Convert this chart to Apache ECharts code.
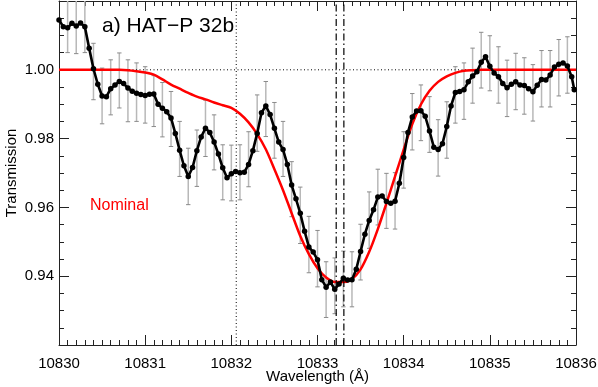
<!DOCTYPE html>
<html><head><meta charset="utf-8">
<script src="https://cdn.jsdelivr.net/npm/echarts@6/dist/echarts.min.js"></script>
<style>html,body{margin:0;padding:0;background:#fff}#c{width:598px;height:387px}</style>
</head><body><div id="c"></div>
<script>
// Observed transmission spectrum (black)
const wave = [
10830.00,10830.05,10830.10,10830.15,10830.20,10830.25,10830.30,10830.35,10830.40,10830.45,
10830.50,10830.55,10830.60,10830.65,10830.70,10830.75,10830.80,10830.85,10830.90,10830.95,
10831.00,10831.05,10831.10,10831.15,10831.20,10831.25,10831.30,10831.35,10831.40,10831.45,
10831.50,10831.55,10831.60,10831.65,10831.70,10831.75,10831.80,10831.85,10831.90,10831.95,
10832.00,10832.05,10832.10,10832.15,10832.20,10832.25,10832.30,10832.35,10832.40,10832.45,
10832.50,10832.55,10832.60,10832.65,10832.70,10832.75,10832.80,10832.85,10832.90,10832.95,
10833.00,10833.05,10833.10,10833.15,10833.20,10833.25,10833.30,10833.35,10833.40,10833.45,
10833.50,10833.55,10833.60,10833.65,10833.70,10833.75,10833.80,10833.85,10833.90,10833.95,
10834.00,10834.05,10834.10,10834.15,10834.20,10834.25,10834.30,10834.35,10834.40,10834.45,
10834.50,10834.55,10834.60,10834.65,10834.70,10834.75,10834.80,10834.85,10834.90,10834.95,
10835.00,10835.05,10835.10,10835.15,10835.20,10835.25,10835.30,10835.35,10835.40,10835.45,
10835.50,10835.55,10835.60,10835.65,10835.70,10835.75,10835.80,10835.85,10835.90,10835.95,
10835.98];
const transmission = [
1.0145,1.0125,1.0122,1.0135,1.0127,1.0136,1.0125,1.0063,1.0003,0.9958,
0.9924,0.9922,0.9945,0.9956,0.9966,0.9960,0.9947,0.9938,0.9932,0.9928,
0.9925,0.9929,0.9930,0.9900,0.9888,0.9878,0.9860,0.9815,0.9766,0.9721,
0.9690,0.9716,0.9765,0.9805,0.9830,0.9818,0.9790,0.9755,0.9715,0.9686,
0.9698,0.9704,0.9701,0.9702,0.9725,0.9765,0.9815,0.9875,0.9895,0.9870,
0.9830,0.9790,0.9768,0.9725,0.9665,0.9625,0.9583,0.9531,0.9485,0.9470,
0.9448,0.9390,0.9368,0.9383,0.9362,0.9377,0.9394,0.9389,0.9390,0.9420,
0.9472,0.9522,0.9562,0.9593,0.9630,0.9633,0.9617,0.9612,0.9618,0.9670,
0.9745,0.9818,0.9863,0.9880,0.9881,0.9865,0.9822,0.9775,0.9768,0.9785,
0.9835,0.9895,0.9934,0.9937,0.9942,0.9965,0.9982,0.9994,1.0022,1.0038,
1.0010,0.9991,0.9980,0.9960,0.9948,0.9958,0.9965,0.9956,0.9954,0.9945,
0.9936,0.9955,0.9972,0.9970,0.9985,1.0008,1.0016,1.0020,1.0011,0.9980,
0.9942];

// Error bars
const errWave = [
10830.1,10830.2,10830.3,10830.4,10830.5,10830.6,10830.7,10830.8,10830.9,
10831.0,10831.1,10831.2,10831.3,10831.4,10831.5,10831.6,10831.7,10831.8,10831.9,
10832.0,10832.1,10832.2,10832.3,10832.4,10832.5,10832.6,10832.7,10832.8,10832.9,
10833.0,10833.1,10833.2,10833.3,10833.4,10833.5,10833.6,10833.7,10833.8,10833.9,
10834.0,10834.1,10834.2,10834.3,10834.4,10834.5,10834.6,10834.7,10834.8,10834.9,
10835.0,10835.1,10835.2,10835.3,10835.4,10835.5,10835.6,10835.7,10835.8,10835.9];
const errMid = [
1.0130,1.0127,1.0130,0.9995,0.9924,0.9949,0.9969,0.9939,0.9935,
0.9927,0.9909,0.9884,0.9857,0.9770,0.9690,0.9743,0.9830,0.9789,0.9702,
0.9700,0.9702,0.9740,0.9845,0.9886,0.9824,0.9770,0.9653,0.9577,0.9492,
0.9451,0.9361,0.9372,0.9392,0.9391,0.9470,0.9563,0.9630,0.9619,0.9619,
0.9738,0.9849,0.9875,0.9841,0.9773,0.9825,0.9927,0.9938,0.9983,1.0028,
1.0019,0.9985,0.9946,0.9966,0.9953,0.9933,0.9974,0.9974,1.0006,1.0014];
const errHalf = [
0.0080,0.0080,0.0080,0.0082,0.0081,0.0080,0.0080,0.0090,0.0085,
0.0082,0.0074,0.0079,0.0080,0.0080,0.0082,0.0082,0.0082,0.0080,0.0080,
0.0081,0.0080,0.0080,0.0082,0.0080,0.0081,0.0080,0.0080,0.0082,0.0082,
0.0082,0.0081,0.0081,0.0081,0.0080,0.0081,0.0082,0.0081,0.0080,0.0082,
0.0082,0.0082,0.0081,0.0081,0.0082,0.0082,0.0082,0.0082,0.0080,0.0081,
0.0080,0.0082,0.0082,0.0082,0.0082,0.0082,0.0082,0.0082,0.0082,0.0082];

// Nominal model (red)
const modelWave = [
10830.0,10830.1,10830.2,10830.3,10830.4,10830.5,10830.6,10830.7,10830.8,10830.9,
10831.0,10831.1,10831.2,10831.3,10831.4,10831.5,10831.6,10831.7,10831.8,10831.9,
10832.0,10832.1,10832.2,10832.3,10832.4,10832.5,10832.6,10832.7,10832.8,10832.9,
10833.0,10833.1,10833.2,10833.3,10833.4,10833.5,10833.6,10833.7,10833.8,10833.9,
10834.0,10834.1,10834.2,10834.3,10834.4,10834.5,10834.6,10834.7,10834.8,10834.9,
10835.0,10835.1,10835.2,10835.3,10835.4,10835.5,10835.6,10835.7,10835.8,10835.9,
10836.0];
const modelTransmission = [
1.0000,1.0000,1.0000,1.0000,1.0000,1.0000,1.0000,1.0000,0.9999,0.9996,
0.9992,0.9986,0.9972,0.9957,0.9945,0.9933,0.9922,0.9914,0.9905,0.9897,
0.9889,0.9872,0.9847,0.9813,0.9769,0.9711,0.9650,0.9583,0.9517,0.9464,
0.9423,0.9396,0.9383,0.9383,0.9392,0.9420,0.9471,0.9537,0.9612,0.9690,
0.9768,0.9842,0.9899,0.9939,0.9965,0.9981,0.9991,0.9997,0.9999,1.0000,
1.0000,1.0000,1.0000,1.0000,1.0000,1.0000,1.0000,1.0000,1.0000,1.0000,
1.0000];

// He I triplet line positions and the continuum level
const heLineWeak = 10832.057;
const heLinesStrong = [10833.217, 10833.306];
const continuumLevel = 1.00;

const xMin = 10830, xMax = 10836, xStep = 1;
const yMin = 0.92, yMax = 1.02, yStep = 0.02;

const FONT = '"Liberation Sans", Arial, Helvetica, sans-serif';
const chart = echarts.init(document.getElementById('c'), null, {renderer: 'canvas'});

const axisLine = {show: true, lineStyle: {color: '#222', width: 1}};
function xAx(pos, withLabels) {
  return {
    type: 'value', position: pos, min: xMin, max: xMax, interval: xStep,
    axisLine: axisLine,
    axisTick: {show: true, inside: true, length: 10, lineStyle: {color: '#222'}},
    minorTick: {show: true, splitNumber: 10, length: 5, lineStyle: {color: '#222'}},
    splitLine: {show: false}, minorSplitLine: {show: false},
    axisLabel: {show: withLabels, color: '#000', fontSize: 15, fontFamily: FONT, margin: 11,
      formatter: v => String(Math.round(v))},
    name: withLabels ? 'Wavelength (Å)' : '', nameLocation: 'middle', nameGap: 24,
    nameMoveOverlap: false,
    nameTextStyle: {color: '#000', fontSize: 15, fontFamily: FONT}
  };
}
function yAx(pos, withLabels) {
  return {
    type: 'value', position: pos, min: yMin, max: yMax, interval: yStep,
    axisLine: axisLine,
    axisTick: {show: true, inside: true, length: 10, lineStyle: {color: '#222'}},
    minorTick: {show: true, splitNumber: 4, length: 5, lineStyle: {color: '#222'}},
    splitLine: {show: false}, minorSplitLine: {show: false},
    axisLabel: {show: withLabels, color: '#000', fontSize: 15, fontFamily: FONT, margin: 5,
      showMinLabel: false, showMaxLabel: false,
      formatter: v => v.toFixed(2)},
    name: withLabels ? 'Transmission' : '', nameLocation: 'middle', nameGap: 40, nameRotate: 90,
    nameMoveOverlap: false,
    nameTextStyle: {color: '#000', fontSize: 15, fontFamily: FONT}
  };
}

const errData = errWave.map((w, i) => [w, errMid[i] - errHalf[i], errMid[i] + errHalf[i]]);

chart.setOption({
  animation: false,
  backgroundColor: '#fff',
  grid: {left: 59, right: 22, top: 1, bottom: 42, containLabel: false, outerBoundsMode: 'none'},
  xAxis: [xAx('bottom', true), xAx('top', false)],
  yAxis: [yAx('left', true), yAx('right', false)],
  graphic: [
    {type: 'text', left: 102, top: 16, z: 100,
     style: {text: 'a) HAT\u2212P 32b', fill: '#000', font: '21px ' + FONT}},
    {type: 'text', left: 90, top: 198, z: 100,
     style: {text: 'Nominal', fill: '#ff0000', font: '16px ' + FONT}}
  ],
  series: [
    {
      type: 'custom', name: 'err', xAxisIndex: 0, yAxisIndex: 0, clip: true, z: 1,
      data: errData,
      renderItem: function (params, api) {
        const x = api.value(0);
        const lo = api.coord([x, api.value(1)]);
        const hi = api.coord([x, api.value(2)]);
        const cw = 2.2;
        return {type: 'group', children: [
          {type: 'line', shape: {x1: lo[0], y1: lo[1], x2: hi[0], y2: hi[1]},
           style: {stroke: '#b8b8b8', lineWidth: 1.5}},
          {type: 'line', shape: {x1: lo[0] - cw, y1: lo[1], x2: lo[0] + cw, y2: lo[1]},
           style: {stroke: '#8a8a8a', lineWidth: 1}},
          {type: 'line', shape: {x1: hi[0] - cw, y1: hi[1], x2: hi[0] + cw, y2: hi[1]},
           style: {stroke: '#8a8a8a', lineWidth: 1}}
        ]};
      }
    },
    {
      type: 'line', name: 'continuum', z: 2, symbol: 'none', silent: true,
      data: [[xMin, continuumLevel], [xMax, continuumLevel]],
      lineStyle: {color: '#000', width: 1, type: [1, 2.5]}
    },
    {
      type: 'line', name: 'weak', z: 2, symbol: 'none', silent: true,
      data: [[heLineWeak, yMin], [heLineWeak, yMax]],
      lineStyle: {color: '#000', width: 1, type: [1, 2.5]}
    },
    {
      type: 'line', name: 'Nominal', z: 3, symbol: 'none', smooth: 0.3,
      data: modelWave.map((w, i) => [w, modelTransmission[i]]),
      lineStyle: {color: '#ff0000', width: 2.5}
    },
    {
      type: 'line', name: 'obs', z: 4, symbol: 'circle', symbolSize: 5.5,
      data: wave.map((w, i) => [w, transmission[i]]),
      lineStyle: {color: '#000', width: 2.6},
      itemStyle: {color: '#000'}
    },
    ...heLinesStrong.map(w => ({
      type: 'line', z: 5, symbol: 'none', silent: true,
      data: [[w, yMin], [w, yMax]],
      lineStyle: {color: '#000', width: 1.2, type: [7, 3, 1.5, 3]}
    }))
  ]
});
</script>
</body></html>
